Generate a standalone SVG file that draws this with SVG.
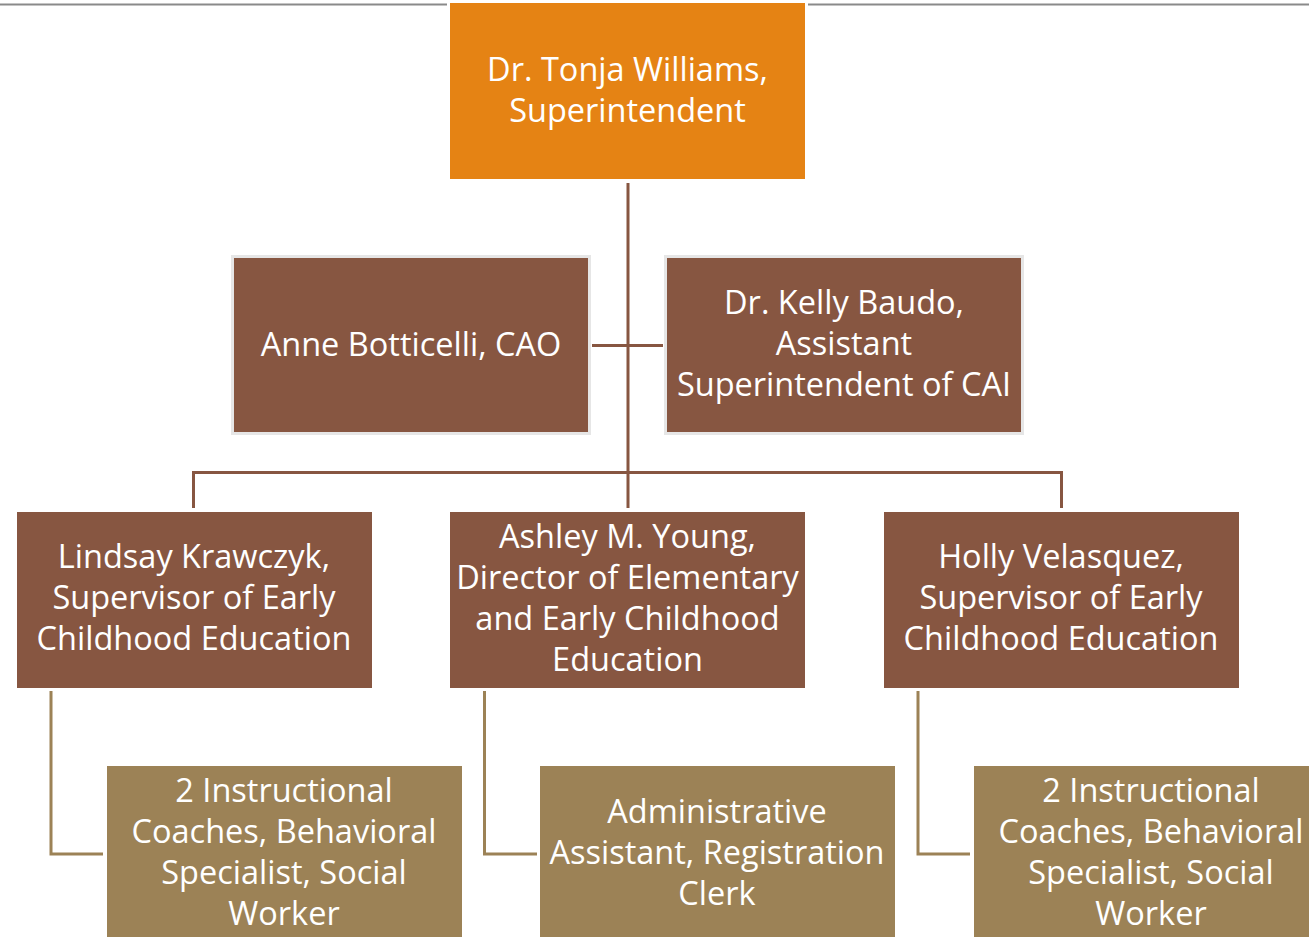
<svg xmlns="http://www.w3.org/2000/svg" width="1309" height="937" viewBox="0 0 1309 937">
<style>
.t{font-family:"Open Sans","Liberation Sans",Arial,sans-serif;font-size:32.5px;fill:#ffffff;text-anchor:middle}
.org{fill:#E58314}
.br{fill:#875641}
.brb{fill:#875641;stroke:#E6E6E6;stroke-width:3}
.tan{fill:#9C8256}
.cb{stroke:#875641;stroke-width:3;fill:none}
.ct{stroke:#9C8256;stroke-width:3;fill:none}
</style>
<rect width="1309" height="937" fill="#ffffff"/>
<line x1="0" y1="4.5" x2="447" y2="4.5" stroke="#8A8A8A" stroke-width="2"/>
<line x1="808" y1="4.5" x2="1309" y2="4.5" stroke="#8A8A8A" stroke-width="2"/>
<g id="connectors">
<path class="cb" d="M628 183 V508"/>
<path class="cb" d="M592 345.5 H663"/>
<path class="cb" d="M193.5 508 V472.5 H1061.5 V508"/>
<path class="ct" d="M51 691 V854 H103"/>
<path class="ct" d="M484.5 691 V854 H537"/>
<path class="ct" d="M918 691 V854 H970"/>
</g>
<g id="n-williams">
<rect class="org" x="450" y="3" width="355" height="176"/>
<text class="t" x="627.5" y="81">Dr. Tonja Williams,</text>
<text class="t" x="627.5" y="122">Superintendent</text>
</g>
<g id="n-botticelli">
<rect class="brb" x="232.5" y="256.5" width="357" height="177"/>
<text class="t" x="411" y="356">Anne Botticelli, CAO</text>
</g>
<g id="n-baudo">
<rect class="brb" x="665.5" y="256.5" width="357" height="177"/>
<text class="t" x="844" y="314">Dr. Kelly Baudo,</text>
<text class="t" x="844" y="355">Assistant</text>
<text class="t" x="844" y="396">Superintendent of CAI</text>
</g>
<g id="n-krawczyk">
<rect class="br" x="17" y="512" width="355" height="176"/>
<text class="t" x="194" y="568">Lindsay Krawczyk,</text>
<text class="t" x="194" y="609">Supervisor of Early</text>
<text class="t" x="194" y="650">Childhood Education</text>
</g>
<g id="n-young">
<rect class="br" x="450" y="512" width="355" height="176"/>
<text class="t" x="627.5" y="548">Ashley M. Young,</text>
<text class="t" x="627.5" y="589">Director of Elementary</text>
<text class="t" x="627.5" y="630">and Early Childhood</text>
<text class="t" x="627.5" y="671">Education</text>
</g>
<g id="n-velasquez">
<rect class="br" x="884" y="512" width="355" height="176"/>
<text class="t" x="1061" y="568">Holly Velasquez,</text>
<text class="t" x="1061" y="609">Supervisor of Early</text>
<text class="t" x="1061" y="650">Childhood Education</text>
</g>
<g id="n-staff-left">
<rect class="tan" x="107" y="766" width="355" height="176"/>
<text class="t" x="284" y="802">2 Instructional</text>
<text class="t" x="284" y="843">Coaches, Behavioral</text>
<text class="t" x="284" y="884">Specialist, Social</text>
<text class="t" x="284" y="925">Worker</text>
</g>
<g id="n-admin">
<rect class="tan" x="540" y="766" width="355" height="176"/>
<text class="t" x="717" y="823">Administrative</text>
<text class="t" x="717" y="864">Assistant, Registration</text>
<text class="t" x="717" y="905">Clerk</text>
</g>
<g id="n-staff-right">
<rect class="tan" x="974" y="766" width="355" height="176"/>
<text class="t" x="1151" y="802">2 Instructional</text>
<text class="t" x="1151" y="843">Coaches, Behavioral</text>
<text class="t" x="1151" y="884">Specialist, Social</text>
<text class="t" x="1151" y="925">Worker</text>
</g>
</svg>
